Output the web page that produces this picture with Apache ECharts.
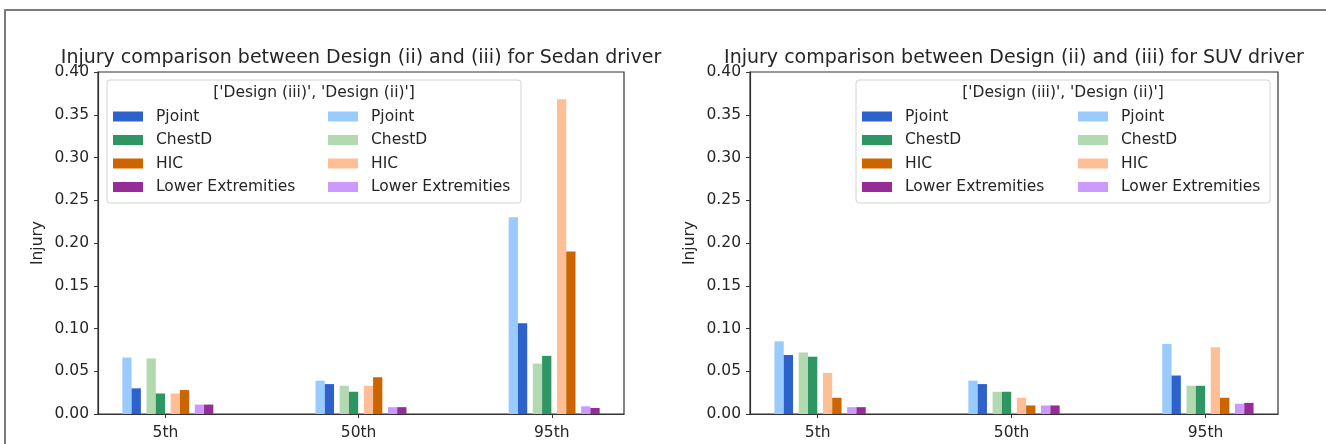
<!DOCTYPE html>
<html>
<head>
<meta charset="utf-8">
<script src="https://cdn.jsdelivr.net/npm/echarts@6/dist/echarts.min.js"></script>
<style>
  html, body { margin: 0; padding: 0; background: #fff; }
  #chart { width: 1326px; height: 444px; }
</style>
</head>
<body>
<div id="chart"></div>
<script>
// Percentile groups on the x axis
const categories = ['5th', '50th', '95th'];
// Injury metrics, one bar pair per metric
const metrics = ['Pjoint', 'ChestD', 'HIC', 'Lower Extremities'];
const yTicks = [0, 0.05, 0.1, 0.15, 0.2, 0.25, 0.3, 0.35, 0.4];

// Rows follow `metrics`, columns follow `categories`
const sedanDesign2 = [
  [0.066, 0.039, 0.230],
  [0.065, 0.033, 0.059],
  [0.024, 0.033, 0.368],
  [0.011, 0.008, 0.009]
];
const sedanDesign3 = [
  [0.030, 0.035, 0.106],
  [0.024, 0.026, 0.068],
  [0.028, 0.043, 0.190],
  [0.011, 0.008, 0.007]
];
const suvDesign2 = [
  [0.085, 0.039, 0.082],
  [0.072, 0.026, 0.033],
  [0.048, 0.019, 0.078],
  [0.008, 0.010, 0.012]
];
const suvDesign3 = [
  [0.069, 0.035, 0.045],
  [0.067, 0.026, 0.033],
  [0.019, 0.010, 0.019],
  [0.008, 0.010, 0.013]
];

const titles = [
  'Injury comparison between Design (ii) and (iii) for Sedan driver',
  'Injury comparison between Design (ii) and (iii) for SUV driver'
];
const legendTitle = "['Design (iii)', 'Design (ii)']";

// colours: [Design (iii), Design (ii)] per metric
const darkColors = ['#2d62cc', '#2d9663', '#cc6500', '#952c97'];
const lightColors = ['#99cbff', '#b2d9b0', '#ffbf96', '#cc99ff'];

const FONT = 'DejaVu Sans';
const TEXT = '#262626';
const TICK_FS = 15.5;
const BAR_W = 0.048;
const PAIR_STEP = 0.125;
const FIRST_PAIR = -0.175;

const panels = [
  { left: 98, width: 526, legendBox: 107, legendCols: [113, 328] },
  { left: 750, width: 528, legendBox: 856, legendCols: [862, 1078] }
];
const gridTop = 72, gridBottom = 414;

function keyOf(design, m) { return design + '|' + metrics[m]; }

function barSeries(gridIdx, design, m, values, color, offset) {
  return {
    type: 'custom',
    name: keyOf(design, m),
    xAxisIndex: gridIdx,
    yAxisIndex: gridIdx,
    itemStyle: { color: color },
    encode: { x: 0, y: 1 },
    data: values.map((v, i) => [i, v]),
    renderItem: function (params, api) {
      const i = api.value(0);
      const v = api.value(1);
      const top = api.coord([i + offset, v]);
      const base = api.coord([i + offset + BAR_W, 0]);
      return {
        type: 'rect',
        shape: { x: top[0], y: top[1], width: base[0] - top[0], height: base[1] - top[1] },
        style: { fill: color }
      };
    }
  };
}

const grids = [], xAxes = [], yAxes = [], series = [], legends = [], graphics = [], titleList = [];

// outer frame
graphics.push({
  type: 'rect', z: -10, silent: true,
  shape: { x: 5, y: 10, width: 1400, height: 500 },
  style: { fill: 'none', stroke: '#7a7a7a', lineWidth: 2 }
});

const datasets = [[sedanDesign2, sedanDesign3], [suvDesign2, suvDesign3]];

panels.forEach((p, g) => {
  grids.push({
    left: p.left, top: gridTop, width: p.width, height: gridBottom - gridTop,
    show: true, borderColor: '#333', borderWidth: 1.2, backgroundColor: 'transparent'
  });
  xAxes.push({
    type: 'value', gridIndex: g, min: -0.349, max: 2.374,
    axisLine: { show: true, onZero: false, lineStyle: { color: '#333', width: 1.2 } },
    axisTick: { show: true, length: 4, customValues: [0, 1, 2], lineStyle: { color: '#333' } },
    axisLabel: {
      customValues: [0, 1, 2], margin: 11,
      formatter: v => categories[Math.round(v)],
      fontFamily: FONT, fontSize: TICK_FS, color: TEXT
    },
    splitLine: { show: false }
  });
  yAxes.push({
    type: 'value', gridIndex: g, min: 0, max: 0.4, interval: 0.05,
    name: 'Injury', nameLocation: 'middle', nameGap: 52,
    nameTextStyle: { fontFamily: FONT, fontSize: TICK_FS, color: TEXT },
    axisLine: { show: true, onZero: false, lineStyle: { color: '#333', width: 1.2 } },
    axisTick: { show: true, length: 4, lineStyle: { color: '#333' } },
    axisLabel: {
      margin: 9, fontFamily: FONT, fontSize: TICK_FS, color: TEXT,
      formatter: v => {
        const t = yTicks.find(k => Math.abs(k - v) < 1e-9);
        return (t === undefined ? v : t).toFixed(2);
      }
    },
    splitLine: { show: false }
  });

  const [d2, d3] = datasets[g];
  metrics.forEach((name, m) => {
    const boundary = FIRST_PAIR + PAIR_STEP * m;
    series.push(barSeries(g, 'ii', m, d2[m], lightColors[m], boundary - BAR_W));
    series.push(barSeries(g, 'iii', m, d3[m], darkColors[m], boundary));
  });

  titleList.push({
    text: titles[g], left: p.left + p.width / 2, top: 49, padding: 0,
    textAlign: 'center',
    textStyle: { fontFamily: FONT, fontSize: 19, fontWeight: 'normal', color: TEXT }
  });

  // legend frame and heading
  graphics.push({
    type: 'rect', z: 5, silent: true,
    shape: { x: p.legendBox, y: 80, width: 414, height: 123, r: 3 },
    style: { fill: 'rgba(255,255,255,0.85)', stroke: '#d4d4d4', lineWidth: 1 }
  });
  graphics.push({
    type: 'text', z: 6, silent: true,
    x: p.legendBox + 207, y: 93,
    style: {
      text: legendTitle, fontFamily: FONT, fontSize: TICK_FS, fill: TEXT,
      align: 'center', verticalAlign: 'middle'
    }
  });

  ['iii', 'ii'].forEach((design, c) => {
    legends.push({
      orient: 'vertical', left: p.legendCols[c], top: 108.5, padding: 0,
      itemWidth: 30, itemHeight: 10, itemGap: 7.5, icon: 'rect', z: 7,
      selectedMode: false,
      data: metrics.map((_, m) => keyOf(design, m)),
      formatter: n => n.split('|')[1],
      textStyle: { fontFamily: FONT, fontSize: TICK_FS, color: TEXT, lineHeight: 16, padding: [0, 0, 0, 8] }
    });
  });
});

const chart = echarts.init(document.getElementById('chart'), null, { renderer: 'canvas' });
chart.setOption({
  backgroundColor: '#fff',
  animation: false,
  title: titleList,
  grid: grids,
  xAxis: xAxes,
  yAxis: yAxes,
  legend: legends,
  graphic: graphics,
  series: series
});
</script>
</body>
</html>
